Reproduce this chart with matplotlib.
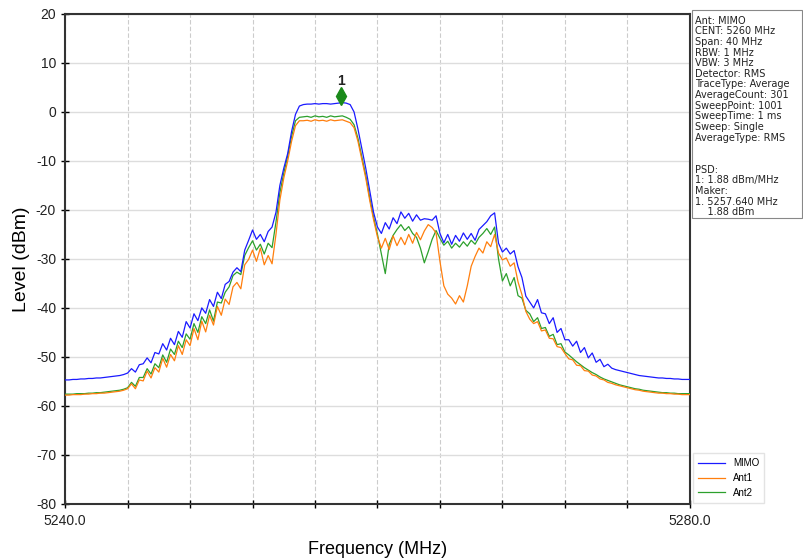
import numpy as np
import matplotlib
matplotlib.use("Agg")
from matplotlib import pyplot as plt
from matplotlib import transforms
from matplotlib.patches import Rectangle

plt.rcParams["font.family"] = ["Liberation Sans", "DejaVu Sans"]
plt.rcParams["axes.unicode_minus"] = False

# 扫频点 (0.25 MHz 步进)
freq = np.linspace(5240, 5280, 161)

mimo = [
    -54.7, -54.7, -54.6, -54.6, -54.5, -54.5, -54.4, -54.4, -54.3, -54.3,
    -54.2, -54.1, -54.0, -53.9, -53.8, -53.6, -53.3, -52.4, -53.1, -51.6,
    -51.4, -50.2, -51.2, -49.1, -49.4, -47.3, -48.6, -46.2, -47.5, -44.8,
    -46.0, -42.8, -44.1, -41.2, -42.6, -40.0, -41.1, -38.3, -39.7, -36.8,
    -38.1, -35.2, -34.6, -32.7, -31.8, -32.6, -28.2, -26.2, -24.1, -26.0,
    -25.0, -26.5, -24.4, -23.5, -20.5, -15.0, -11.5, -8.5, -4.0, -0.5,
    1.2, 1.5, 1.6, 1.6, 1.7, 1.6, 1.7, 1.7, 1.6, 1.7,
    1.8, 1.9, 1.8, 1.5, 0.0, -3.5, -7.5, -11.5, -16.0, -20.5,
    -23.5, -24.8, -22.6, -23.9, -21.6, -22.8, -20.4, -21.7, -20.7, -22.3,
    -21.0, -22.1, -21.8, -21.9, -22.1, -21.2, -24.8, -26.7, -25.0, -27.0,
    -25.2, -26.4, -24.7, -26.0, -24.8, -26.2, -24.0, -23.2, -22.4, -21.2,
    -20.6, -26.8, -28.6, -27.8, -29.0, -28.3, -31.6, -33.8, -37.6, -38.8,
    -40.0, -38.3, -41.0, -41.2, -43.2, -42.0, -45.0, -44.2, -46.5, -46.5,
    -47.8, -46.8, -49.1, -48.1, -50.2, -49.2, -51.1, -50.5, -52.0, -51.5,
    -52.3, -52.6, -52.8, -53.0, -53.2, -53.4, -53.6, -53.8, -53.9, -54.0,
    -54.1, -54.2, -54.3, -54.3, -54.4, -54.4, -54.5, -54.5, -54.6, -54.6,
    -54.6,
]

ant1 = [
    -57.8, -57.8, -57.7, -57.7, -57.7, -57.6, -57.6, -57.5, -57.5, -57.4,
    -57.4, -57.3, -57.2, -57.1, -57.0, -56.8, -56.5, -55.5, -56.5, -54.7,
    -54.9, -52.9, -54.3, -52.2, -53.1, -50.3, -52.1, -49.5, -50.8, -47.7,
    -49.5, -46.5, -47.7, -44.2, -46.5, -42.7, -44.9, -41.5, -43.5, -39.7,
    -41.5, -38.2, -39.3, -35.7, -34.8, -36.1, -31.2, -30.1, -28.2, -30.5,
    -27.8, -31.2, -29.3, -31.0, -25.0, -18.0, -13.5, -10.0, -6.0, -2.8,
    -1.8, -1.8, -1.7, -1.9, -1.6, -1.8, -1.7, -1.9, -1.6, -1.8,
    -1.7, -1.6, -1.9, -2.2, -3.2, -6.0, -9.8, -13.5, -18.0, -22.0,
    -25.5, -27.8, -25.8, -28.1, -25.3, -27.3, -25.6, -27.1, -25.0, -26.8,
    -24.6, -26.1, -24.3, -23.0, -23.6, -24.7, -30.5, -35.5, -37.2, -38.0,
    -39.2, -37.5, -38.8, -35.5, -31.5, -29.5, -27.8, -28.8, -26.5, -27.5,
    -25.0, -28.8, -30.2, -29.8, -31.5, -30.8, -34.7, -37.3, -40.7, -42.3,
    -43.2, -42.8, -44.7, -44.5, -46.2, -46.3, -47.9, -48.1, -49.3, -50.4,
    -50.6, -51.7, -51.8, -52.8, -52.9, -53.7, -53.9, -54.5, -54.7, -55.2,
    -55.4, -55.7, -55.9, -56.1, -56.3, -56.5, -56.7, -56.8, -57.0, -57.1,
    -57.2, -57.3, -57.4, -57.4, -57.5, -57.5, -57.6, -57.6, -57.7, -57.7,
    -57.7,
]

ant2 = [
    -57.6, -57.6, -57.6, -57.5, -57.5, -57.5, -57.4, -57.4, -57.3, -57.3,
    -57.2, -57.1, -57.0, -56.9, -56.8, -56.6, -56.3, -55.2, -56.0, -54.2,
    -54.2, -52.4, -53.5, -51.4, -52.2, -49.6, -51.1, -48.4, -49.5, -46.8,
    -48.1, -45.3, -46.4, -43.2, -45.0, -41.8, -43.2, -40.4, -42.7, -38.8,
    -39.0, -36.8, -35.7, -33.4, -32.7, -33.2, -29.3, -27.7, -26.3, -28.2,
    -27.0, -29.0, -26.8, -27.7, -22.5, -16.5, -12.5, -9.0, -5.0, -1.8,
    -1.1, -1.0, -0.9, -1.1, -0.8, -1.0, -0.9, -1.1, -0.8, -1.0,
    -0.9, -0.8, -1.1, -1.5, -2.6, -5.4, -9.2, -13.0, -17.5, -21.5,
    -25.0, -29.0, -33.0, -27.0, -25.2, -24.0, -23.0, -24.2, -23.4, -24.8,
    -25.6, -27.8, -30.8, -28.5, -26.0, -24.2, -25.8, -27.2, -26.4, -27.8,
    -26.8, -27.6, -26.5, -27.4, -26.2, -27.0, -25.6, -24.8, -23.8, -25.0,
    -23.5, -30.0, -34.5, -33.0, -35.5, -33.8, -37.5, -38.0, -40.5, -41.2,
    -42.8, -42.0, -44.2, -44.0, -45.8, -45.4, -47.5, -47.3, -49.0, -49.6,
    -50.3, -51.0, -51.6, -52.2, -52.7, -53.2, -53.6, -54.1, -54.5, -54.8,
    -55.1, -55.4, -55.7, -55.9, -56.1, -56.3, -56.5, -56.6, -56.8, -56.9,
    -57.0, -57.1, -57.2, -57.3, -57.3, -57.4, -57.4, -57.5, -57.5, -57.5,
    -57.5,
]

# Marker 1
mk_freq = 5257.64
mk_level = 1.88

info_lines = [
    "Ant: MIMO", "CENT: 5260 MHz", "Span: 40 MHz", "RBW: 1 MHz", "VBW: 3 MHz",
    "Detector: RMS", "TraceType: Average", "AverageCount: 301",
    "SweepPoint: 1001", "SweepTime: 1 ms", "Sweep: Single", "AverageType: RMS",
    "", "", "PSD:", "1: 1.88 dBm/MHz", "Maker:", "1. 5257.640 MHz", "    1.88 dBm",
]

fig = plt.figure(figsize=(8.04, 5.58), dpi=100)
ax = fig.add_axes([0.081, 0.097, 0.777, 0.878])

ax.plot(freq, ant2, color="#2ca02c", lw=0.9, zorder=3, label="Ant2")
ax.plot(freq, ant1, color="#ff7f0e", lw=0.9, zorder=4, label="Ant1")
ax.plot(freq, mimo, color="#1a1aff", lw=0.9, zorder=5, label="MIMO")

# 标记点 (菱形略高于曲线)
up = transforms.ScaledTranslation(0, 5 / 72, fig.dpi_scale_trans)
ax.plot([mk_freq], [mk_level], marker="d", color="#1a8a1a", markersize=9,
        zorder=6, transform=ax.transData + up)
ax.annotate("1", xy=(mk_freq, mk_level), xytext=(0, 16), textcoords="offset points",
            ha="center", va="center", fontsize=10, fontweight="bold", color="#222222")

ax.set_xlim(5240, 5280)
ax.set_ylim(-80, 20)
ax.set_xticks([5240, 5280])
ax.set_xticklabels(["5240.0", "5280.0"])
ax.set_xticks(np.arange(5244, 5280, 4), minor=True)
ax.set_yticks(np.arange(-80, 21, 10))
ax.tick_params(axis="both", which="both", direction="inout", length=6, width=1,
               labelsize=10, labelcolor="#222222")
ax.tick_params(axis="x", which="both", pad=4)

ax.grid(True, axis="x", which="both", color="#cccccc", ls=(0, (4, 2)), lw=0.8)
ax.grid(True, axis="y", which="major", color="#dddddd", ls="-", lw=1.0)
ax.set_axisbelow(True)
for s in ax.spines.values():
    s.set_color("#333333")
    s.set_linewidth(1.5)

ax.set_xlabel("Frequency (MHz)", fontsize=13, labelpad=10)
ax.set_ylabel("Level (dBm)", fontsize=14, labelpad=4)

# 右侧信息框
fig.patches.append(Rectangle((0.861, 0.609), 0.137, 0.373, transform=fig.transFigure,
                             fill=False, edgecolor="#888888", lw=0.8))
fig.text(0.864, 0.972, "\n".join(info_lines), fontsize=7, va="top", ha="left",
         linespacing=1.08, color="#222222", family=["DejaVu Sans"])

h, l = ax.get_legend_handles_labels()
fig.legend(h[::-1], l[::-1], loc="lower left", bbox_to_anchor=(0.862, 0.099),
           borderaxespad=0, fontsize=7, frameon=True, fancybox=False,
           edgecolor="#dddddd", handlelength=2.8, borderpad=0.5, labelspacing=0.5)

fig.savefig("out.png", dpi=100)
